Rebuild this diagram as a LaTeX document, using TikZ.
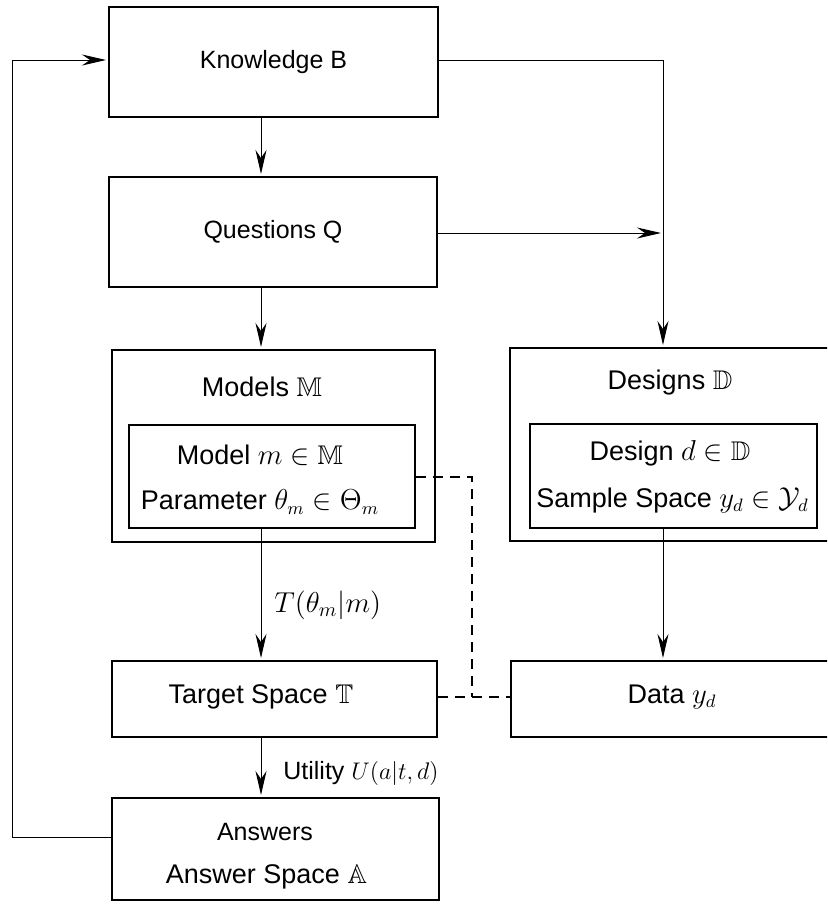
\documentclass[tikz,border=0pt]{standalone}
\usepackage{amssymb}
\usepackage{fontspec}
\setmainfont{Liberation Sans}
\usetikzlibrary{arrows.meta}
\begin{document}
\begin{tikzpicture}[x=0.5pt,y=-0.5pt,
  every node/.style={font=\fontsize{12.5}{15}\selectfont},
  big/.style={font=\fontsize{13.5}{16}\selectfont},
  box/.style={draw,line width=1pt,inner sep=0pt},
  arr/.style={line width=0.5pt,-{Stealth[length=12pt,width=5.5pt,inset=4pt]},shorten >=1pt},
  dashline/.style={line width=1pt,dash pattern=on 5pt off 3.5pt},
  lbl/.style={anchor=west,inner sep=0pt}]
\useasboundingbox (0,0) rectangle (827,907);
\clip (0,0) rectangle (827,907);
% boxes
\node[box,minimum width=164.5pt,minimum height=55pt] (K) at (273.5,62) {Knowledge B};
\node[box,minimum width=164pt,minimum height=55pt] (Q) at (273,232) {Questions Q};
\node[box,minimum width=161.5pt,minimum height=96pt] (M) at (273.5,446) {};
\node[big] at (262,387) (Mt) {Models $\mathbb{M}$};
\node[box,minimum width=143pt,minimum height=51.5pt] (Mi) at (272,476.5) {};
\node[big] (Mi1) at (260,455) {Model $m\in\mathbb{M}$};
\node[big] (Mi2) at (260,502) {Parameter $\theta_m\in\Theta_m$};
\node[box,minimum width=163pt,minimum height=96.5pt] (D) at (673,444.5) {};
\node[big] (Dt) at (670,383) {Designs $\mathbb{D}$};
\node[box,minimum width=143.5pt,minimum height=52pt] (Di) at (673.5,476) {};
\node[big] (Di1) at (670,453) {Design $d\in\mathbb{D}$};
\node[big] (Di2) at (672.5,500) {Sample Space $y_d\in\mathcal{Y}_d$};
\node[box,minimum width=162.5pt,minimum height=38pt] (T) at (274.5,699) {};
\node[big] (Tt) at (261,697) {Target Space $\mathbb{T}$};
\node[box,minimum width=162.5pt,minimum height=38pt] (Da) at (673.5,699) {};
\node[big] (Dat) at (672,697) {Data $y_d$};
\node[box,minimum width=163.5pt,minimum height=51pt] (A) at (275.5,849) {};
\node (A1) at (265,832) {Answers};
\node[big] (A2) at (266.5,877) {Answer Space $\mathbb{A}$};
% helper coordinates
\coordinate (cx) at (261,0);
\coordinate (rx) at (663,0);
\coordinate (lx) at (12,0);
\coordinate (yk) at (0,60);
\coordinate (yq) at (0,233);
\coordinate (ya) at (0,837);
\coordinate (dx) at (472,0);
\coordinate (ym) at (0,477);
\coordinate (yt) at (0,697);
% arrows
\draw[arr] (K.south -| cx) -- (Q.north -| cx);
\draw[arr] (Q.south -| cx) -- (M.north -| cx);
\draw[arr] (Mi.south -| cx) -- (T.north -| cx);
\draw[arr] (T.south -| cx) -- (A.north -| cx);
\draw[arr] (Di.south -| rx) -- (Da.north -| rx);
\draw[arr] (K.east |- yk) -- (rx |- yk) -- (D.north -| rx);
\draw[arr] (Q.east |- yq) -- (rx |- yq);
\draw[arr] (A.west |- ya) -- (lx |- ya) -- (lx |- yk) -- (K.west |- yk);
% dashed
\draw[dashline] (Mi.east |- ym) -- (dx |- ym) -- (dx |- yt);
\draw[dashline] (T.east |- yt) -- (Da.west |- yt);
% labels
\node[lbl,font=\fontsize{14}{16}\selectfont] (Tl) at (274,605) {$T(\theta_m|m)$};
\node[lbl] (Ul) at (283,773) {Utility $U(a|t,d)$};
\end{tikzpicture}
\end{document}
